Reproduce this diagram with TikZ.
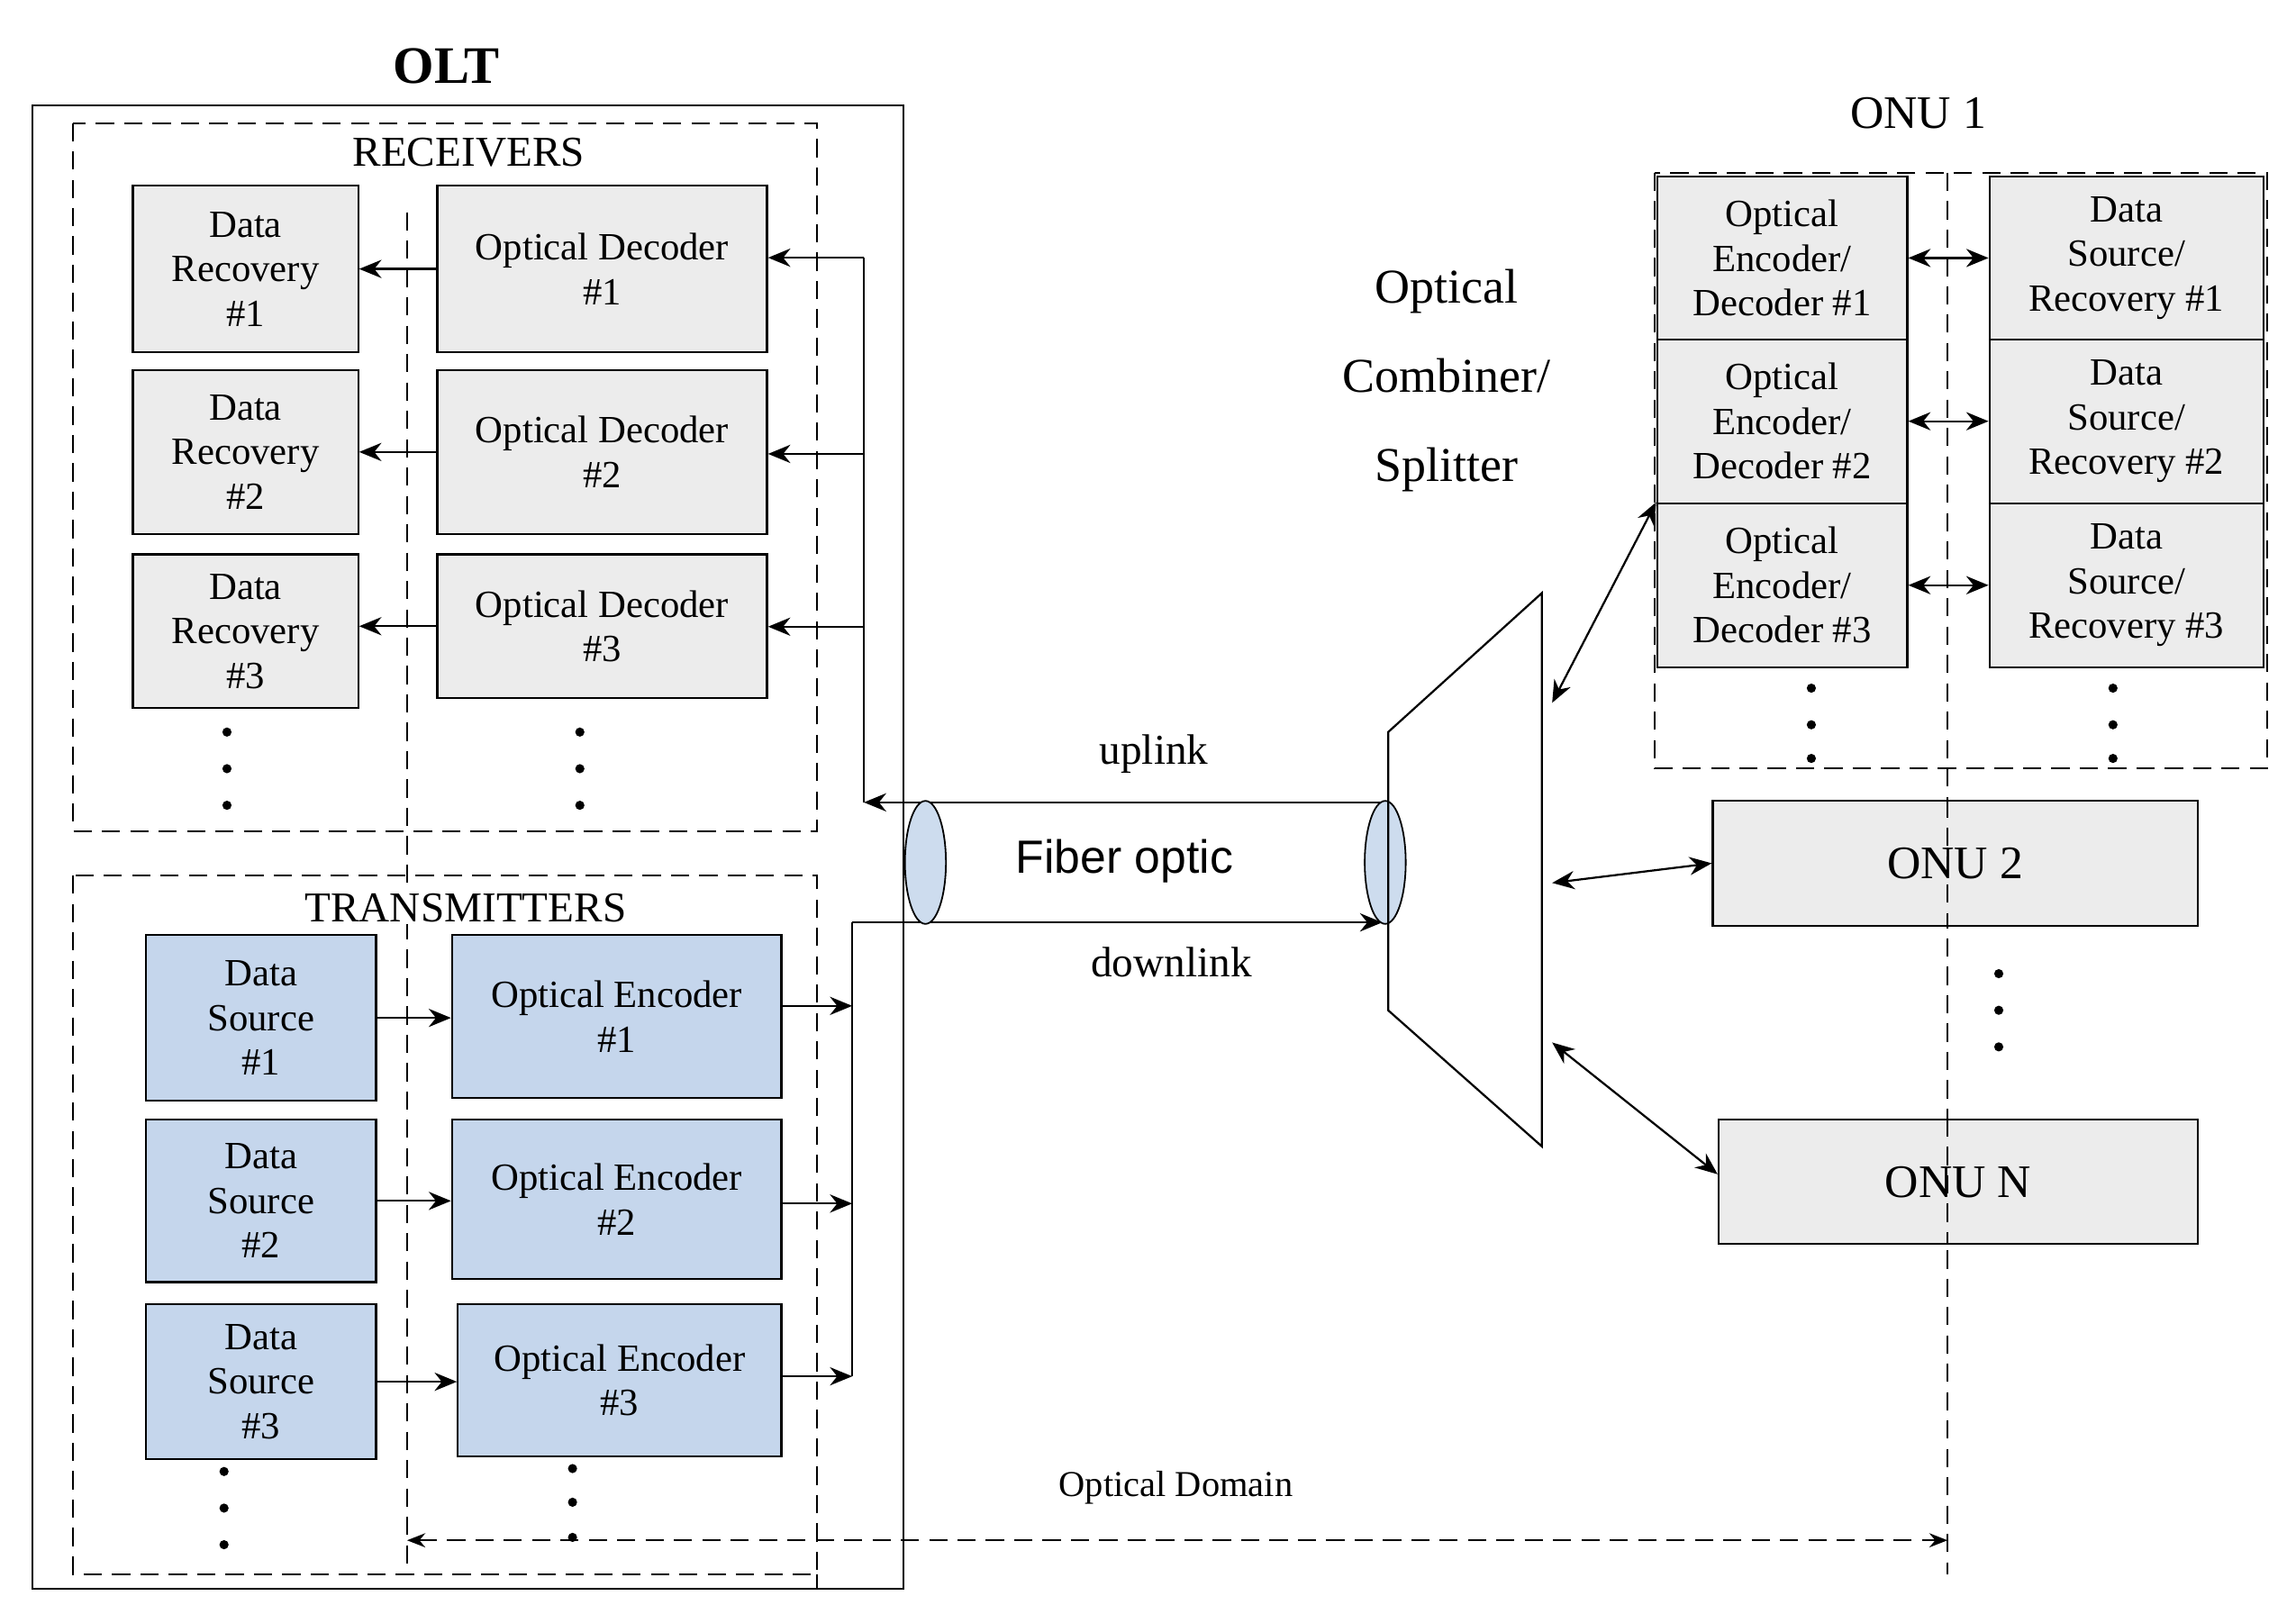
\documentclass[tikz,border=0pt]{standalone}
\usepackage{fontspec}
\setmainfont{Liberation Serif}
\newfontfamily\sansf{Liberation Sans}
\usetikzlibrary{arrows.meta}
\definecolor{gbox}{RGB}{236,236,236}
\definecolor{bbox}{RGB}{197,214,236}
\definecolor{fib}{RGB}{205,220,238}
\begin{document}
\begin{tikzpicture}[x=0.0254cm,y=-0.0254cm,
 box/.style={draw,fill=gbox,line width=1pt,align=center,font=\fontsize{19}{22}\selectfont,inner sep=0pt},
 bbx/.style={draw,fill=bbox,line width=1pt,align=center,font=\fontsize{19}{22}\selectfont,inner sep=0pt},
 dsh/.style={dashed,dash pattern=on 9pt off 5pt,line width=0.9pt},
 ar/.style={-{Stealth[length=11pt,width=9pt]},line width=1pt},
 dar/.style={{Stealth[length=11pt,width=9pt]}-{Stealth[length=11pt,width=9pt]},line width=1pt},
 lbl/.style={font=\fontsize{21}{24}\selectfont,align=center},
 dot/.style={circle,fill,inner sep=1.6pt}]
\useasboundingbox (0,0) rectangle (1568,1108);
% OLT
\node[font=\bfseries\fontsize{26}{30}\selectfont] (olt) at (305,45) {OLT};
\draw[line width=1pt] (22,72) rectangle (617,1085);
\draw[dsh] (50,84) rectangle (558,568);
\draw[dsh] (50,598) rectangle (558,1075);
\draw[dsh] (278,145) -- (278,1075);
\draw[dsh] (558,1075) -- (558,1085);
\node[lbl,fill=white,inner sep=1pt] (rx) at (320,104) {RECEIVERS};
\node[lbl,fill=white,inner sep=1pt] (tx) at (318,620) {TRANSMITTERS};
% receivers
\foreach \i/\ya/\yb in {1/126/240,2/252/364,3/378/483}{
 \node[box,minimum width=154\pgflinewidth,anchor=north west,minimum width=3.91cm,minimum height={(\yb-\ya)*0.0254cm}] (dr\i) at (90,\ya) {Data\\Recovery\\\#\i};
}
\foreach \i/\ya/\yb in {1/126/240,2/252/364,3/378/476}{
 \node[box,anchor=north west,minimum width=5.72cm,minimum height={(\yb-\ya)*0.0254cm}] (od\i) at (298,\ya) {Optical Decoder\\\#\i};
 \draw[ar] (od\i.west) -- (od\i.west -| dr\i.east);
}
% transmitters
\foreach \i/\ya/\yb/\xe in {1/638/751/308,2/764/875/308,3/890/996/312}{
 \node[bbx,anchor=north west,minimum width=3.99cm,minimum height={(\yb-\ya)*0.0254cm}] (ds\i) at (99,\ya) {Data\\Source\\\#\i};
 \node[bbx,anchor=north west,minimum width={(533-\xe)*0.0254cm},minimum height={(\yb-\ya-2)*0.0254cm}] (oe\i) at (\xe,\ya) {Optical Encoder\\\#\i};
 \draw[ar] (ds\i.east) -- (oe\i.west |- ds\i.east);
}
\foreach \x/\y in {155/500,155/525,155/550,396/500,396/525,396/550,153/1005,153/1030,153/1055,391/1003,391/1026,391/1050}
 \node[dot] at (\x,\y) {};
% fiber
\coordinate (ub) at (590,548);
\coordinate (db) at (582,630);
\draw[line width=1pt] (ub) -- (590,176);
\foreach \i/\y in {1/176,2/310,3/428}{\draw[ar] (590,\y) -- (od\i.east |- 0,\y);}
\draw[ar] (946,548) -- (ub);
\draw[line width=1pt] (db) -- (582,940);
\foreach \i/\y in {1/687,2/822,3/940}{\coordinate (b\i) at (582,\y); \draw[ar] (oe\i.east |- 0,\y) -- (b\i);}
\draw[ar] (db) -- (944,630);
\draw[fill=fib,line width=0.8pt] (632,589) ellipse [x radius=14,y radius=42];
\draw[fill=fib,line width=0.8pt] (946,589) ellipse [x radius=14,y radius=42];
\node[font=\sansf\fontsize{23}{26}\selectfont] (fo) at (768,588) {Fiber optic};
\node[lbl] (up) at (788,515) {uplink};
\node[lbl] (dn) at (800,657) {downlink};
% splitter
\draw[line width=1pt] (948,500) -- (1053,405) -- (1053,783) -- (948,690) -- cycle;
\node[lbl,font=\fontsize{24}{44}\selectfont] (spl) at (988,260) {Optical\\Combiner/\\Splitter};
% ONU1
\node[lbl,font=\fontsize{23}{26}\selectfont] (onu1) at (1310,77) {ONU 1};
\draw[dsh] (1130,118) rectangle (1548,525);
\draw[dsh] (1330,118) -- (1330,1075);
\foreach \i/\ya/\yb in {1/120/231,2/231/343,3/343/455}{
 \node[box,anchor=north west,minimum width=4.34cm,minimum height={(\yb-\ya)*0.0254cm}] (oed\i) at (1131,\ya) {Optical\\Encoder/\\Decoder \#\i};
 \node[box,anchor=north west,minimum width=4.75cm,minimum height={(\yb-\ya)*0.0254cm}] (dsr\i) at (1358,\ya) {Data\\Source/\\Recovery \#\i};
 \draw[dar] (oed\i.east) -- (dsr\i.west);
}
\foreach \x/\y in {1237/470,1237/495,1237/518,1443/470,1443/495,1443/518,1365/665,1365/690,1365/715}
 \node[dot] at (\x,\y) {};
\node[box,anchor=north west,minimum width=8.41cm,minimum height=2.18cm,font=\fontsize{23}{26}\selectfont] (onu2) at (1169,546) {ONU 2};
\node[box,anchor=north west,minimum width=8.31cm,minimum height=2.16cm,font=\fontsize{23}{26}\selectfont] (onun) at (1173,764) {ONU N};
\draw[dsh] (1330,546) -- (1330,632) (1330,764) -- (1330,849);
\coordinate (s1) at (1060,480); \coordinate (s2) at (1060,603); \coordinate (s3) at (1060,712);
\draw[dar] (s1) -- (oed3.north west);
\draw[dar] (s2) -- (onu2.west);
\draw[dar] (s3) -- (1173,802);
% optical domain
\coordinate (od1a) at (278,1052); \coordinate (od2a) at (1330,1052);
\draw[dsh,{Stealth[length=9pt,width=7pt]}-{Stealth[length=9pt,width=7pt]}] (od1a) -- (od2a);
\node[font=\fontsize{18}{20}\selectfont] (odl) at (803,1016) {Optical Domain};
\end{tikzpicture}
\end{document}
